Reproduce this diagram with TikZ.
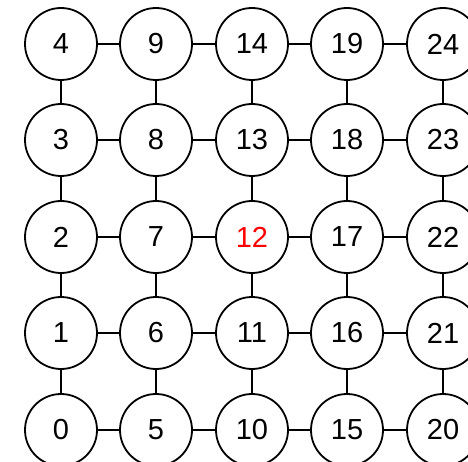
\documentclass[tikz,border=0pt]{standalone}
\usepackage{fontspec}
\setmainfont{Liberation Sans}
\begin{document}
\begin{tikzpicture}[x=1pt,y=-1pt,
  vtx/.style={circle,draw=black,line width=1.8pt,minimum size=72pt,inner sep=0pt,
    font=\fontsize{29}{32}\selectfont},
  link/.style={draw=black,line width=1.8pt}]
\useasboundingbox (0,0) rectangle (468,462);
\foreach \c/\xx in {0/61,1/156,2/252,3/347,4/443}{
  \foreach \r/\yy in {0/430,1/333,2/237,3/140,4/44}{
    \pgfmathtruncatemacro{\n}{5*\c+\r}
    \ifnum\n=12
      \node[vtx,text=red] (n\n) at (\xx,\yy) {\raisebox{-1.5pt}{\n}};
    \else
      \node[vtx] (n\n) at (\xx,\yy) {\raisebox{-1.5pt}{\n}};
    \fi
  }
}
\foreach \c in {0,...,4}{
  \foreach \r in {0,...,3}{
    \pgfmathtruncatemacro{\a}{5*\c+\r}
    \pgfmathtruncatemacro{\b}{5*\c+\r+1}
    \draw[link] (n\a) -- (n\b);
  }
}
\foreach \c in {0,...,3}{
  \foreach \r in {0,...,4}{
    \pgfmathtruncatemacro{\a}{5*\c+\r}
    \pgfmathtruncatemacro{\b}{5*\c+\r+5}
    \draw[link] (n\a) -- (n\b);
  }
}
\end{tikzpicture}
\end{document}
